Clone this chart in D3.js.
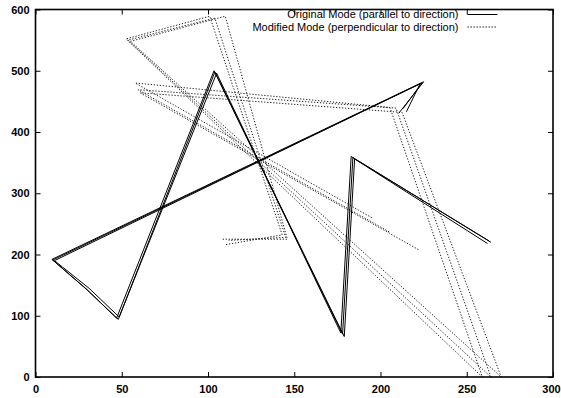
<!DOCTYPE html>
<html>
<head>
<meta charset="utf-8">
<script src="https://cdn.jsdelivr.net/npm/d3@7"></script>
<style>
  body { margin: 0; background: #fff; }
  svg { display: block; font-family: "Liberation Sans", Arial, sans-serif; }
</style>
</head>
<body>
<div id="chart"></div>
<script>
// tick values
const xTicks = [0, 50, 100, 150, 200, 250, 300];
const yTicks = [0, 100, 200, 300, 400, 500, 600];

// Original Mode, three runs
const origRun1 = [[210.7, 431], [225, 482], [9.5, 192], [29, 145], [47, 96], [103.5, 500], [178, 70], [184, 358], [263, 222]];
const origRun2 = [[213, 438], [224, 480], [10, 191], [30, 142], [48, 94], [104, 498], [179, 66], [185, 356], [262, 218]];
const origRun3 = [[215, 433], [223, 479], [11, 190], [31, 145], [48.5, 98], [105, 496], [177, 72], [183, 360], [264, 220]];

// Modified Mode, three runs
const modRun1 = [[195, 260], [57.8, 480], [205.5, 440], [259, 0], [52.5, 552], [101, 589], [143, 232], [110, 216]];
const modRun2 = [[205, 237], [59.4, 469], [209, 439], [264, 0], [53.6, 550], [104, 586], [145, 228], [112, 223]];
const modRun3 = [[222, 208], [60.6, 464], [212.5, 432], [270, 0], [55, 548], [110, 589], [146, 225], [108, 225]];

const legendLabels = ["Original Mode (parallel to direction)", "Modified Mode (perpendicular to direction)"];

const W = 561, H = 398;
const margin = { top: 9.5, right: 8, bottom: 21, left: 35.5 };
const width = W - margin.left - margin.right,
  height = H - margin.top - margin.bottom;

const svg = d3.select("#chart").append("svg")
  .attr("width", W)
  .attr("height", H);

const g = svg.append("g")
  .attr("transform", "translate(" + margin.left + "," + margin.top + ")");

const x = d3.scaleLinear().domain([0, 300]).range([0, width]);
const y = d3.scaleLinear().domain([0, 600]).range([height, 0]);

const line = d3.line().x(d => x(d[0])).y(d => y(d[1]));

// dotted runs first
[modRun1, modRun2, modRun3].forEach(run => {
  g.append("path")
    .datum(run)
    .attr("d", line)
    .attr("fill", "none")
    .attr("stroke", "#222")
    .attr("stroke-width", 1)
    .attr("stroke-dasharray", "1.3,1.7");
});

[origRun1, origRun2, origRun3].forEach(run => {
  g.append("path")
    .datum(run)
    .attr("d", line)
    .attr("fill", "none")
    .attr("stroke", "#000")
    .attr("stroke-width", 1)
    .attr("stroke-linejoin", "round");
});

// axes, ticks inward on all sides
const tickLen = 5;
g.append("g")
  .attr("transform", "translate(0," + height + ")")
  .call(d3.axisBottom(x).tickValues(xTicks).tickSize(-tickLen).tickPadding(8).tickFormat(d3.format("d")))
  .call(a => a.select(".domain").remove())
  .selectAll("text").attr("font-size", "11px").attr("font-weight", "bold").attr("fill", "#000")
  .attr("dx", d => d === 300 ? "-2px" : null);

g.append("g")
  .call(d3.axisLeft(y).tickValues(yTicks).tickSize(-tickLen).tickPadding(6).tickFormat(d3.format("d")))
  .call(a => a.select(".domain").remove())
  .selectAll("text").attr("font-size", "11px").attr("font-weight", "bold").attr("fill", "#000");

g.append("g")
  .call(d3.axisTop(x).tickValues(xTicks).tickSize(-tickLen).tickFormat(""))
  .call(a => a.select(".domain").remove());

g.append("g")
  .attr("transform", "translate(" + width + ",0)")
  .call(d3.axisRight(y).tickValues(yTicks).tickSize(-tickLen).tickFormat(""))
  .call(a => a.select(".domain").remove());

g.selectAll(".tick line").attr("stroke", "#000").attr("stroke-width", 1);

// frame
g.append("rect")
  .attr("width", width)
  .attr("height", height)
  .attr("fill", "none")
  .attr("stroke", "#000")
  .attr("stroke-width", 1.6);

// legend
const legend = g.append("g");
legendLabels.forEach((label, i) => {
  const ly = 5 + i * 12.5;
  legend.append("text")
    .attr("x", 423)
    .attr("y", ly)
    .attr("dy", "0.35em")
    .attr("text-anchor", "end")
    .attr("font-size", "11px")
    .attr("fill", "#000")
    .text(label);
  legend.append("line")
    .attr("x1", 432).attr("x2", 462)
    .attr("y1", ly).attr("y2", ly)
    .attr("stroke", "#000")
    .attr("stroke-width", 1)
    .attr("stroke-dasharray", i === 0 ? null : "1.3,1.7");
});
</script>
</body>
</html>
